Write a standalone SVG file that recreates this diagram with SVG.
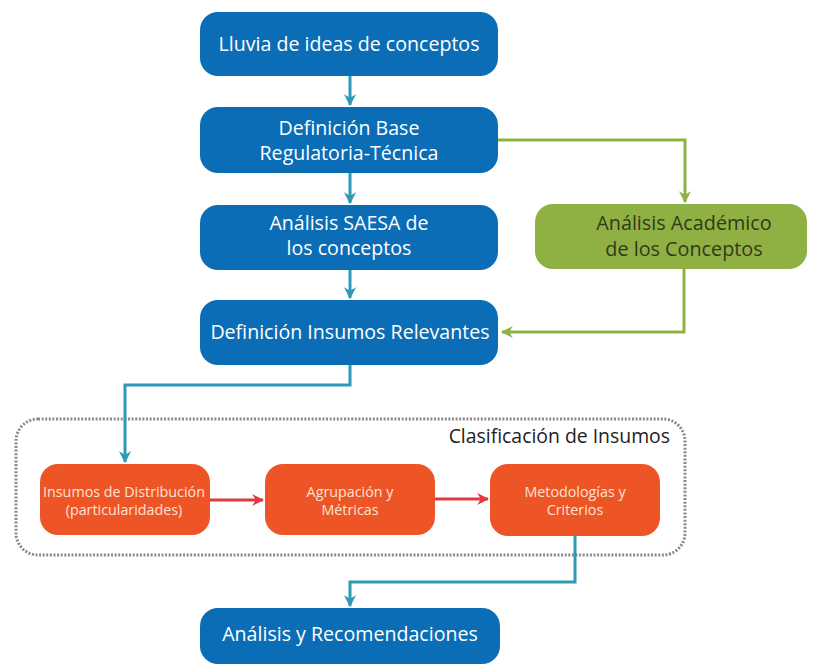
<svg xmlns="http://www.w3.org/2000/svg" width="826" height="667" viewBox="0 0 826 667">
<defs>
<style>
.blue{fill:#0b6db5}
.green{fill:#8fb043}
.orange{fill:#ee5526}
.tw{font-family:"Open Sans","Noto Sans",sans-serif;fill:#ffffff;text-anchor:middle;font-size:19.6px}
.tg{font-family:"Open Sans","Noto Sans",sans-serif;fill:#2f3a1c;text-anchor:middle;font-size:19.8px}
.to{font-family:"Open Sans","Noto Sans",sans-serif;fill:#fde3d3;text-anchor:middle;font-size:14.3px}
.cb{fill:none;stroke:#2f9ab6;stroke-width:3}
.cg{fill:none;stroke:#8fb043;stroke-width:3}
.cr{fill:none;stroke:#e2383f;stroke-width:3}
</style>
<marker id="ab" viewBox="0 0 10 10" refX="9" refY="5" markerWidth="4" markerHeight="4" orient="auto" markerUnits="strokeWidth"><path d="M0,0 L10,5 L0,10 L3,5 Z" fill="#2f9ab6"/></marker>
<marker id="ag" viewBox="0 0 10 10" refX="9" refY="5" markerWidth="4" markerHeight="4" orient="auto" markerUnits="strokeWidth"><path d="M0,0 L10,5 L0,10 L3,5 Z" fill="#8fb043"/></marker>
<marker id="ar" viewBox="0 0 10 10" refX="9" refY="5" markerWidth="4" markerHeight="4" orient="auto" markerUnits="strokeWidth"><path d="M0,0 L10,5 L0,10 L3,5 Z" fill="#e2383f"/></marker>
</defs>
<rect width="826" height="667" fill="#ffffff"/>

<g id="container">
<rect x="16" y="419" width="669" height="136" rx="22" fill="none" stroke="#8a8a8a" stroke-width="3" stroke-dasharray="2 1.6"/>
<text x="670" y="443" style="font-family:'Open Sans','Noto Sans',sans-serif;font-size:19.4px;fill:#222;text-anchor:end">Clasificación de Insumos</text>
</g>

<g id="connectors">
<path class="cb" d="M350,76 V105" marker-end="url(#ab)"/>
<path class="cb" d="M350,173 V203" marker-end="url(#ab)"/>
<path class="cb" d="M350,270 V298" marker-end="url(#ab)"/>
<path class="cg" d="M498,140 H685 V202" marker-end="url(#ag)"/>
<path class="cg" d="M684,269 V332 H502" marker-end="url(#ag)"/>
<path class="cb" d="M350,365 V385 H125 V462" marker-end="url(#ab)"/>
<path class="cr" d="M210,500 H263" marker-end="url(#ar)"/>
<path class="cr" d="M435,499 H488" marker-end="url(#ar)"/>
<path class="cb" d="M575,536 V582 H350 V606" marker-end="url(#ab)"/>
</g>

<g id="n1"><rect class="blue" x="200" y="12" width="298" height="64" rx="18"/><text class="tw" x="349" y="51">Lluvia de ideas de conceptos</text></g>
<g id="n2"><rect class="blue" x="200" y="107" width="298" height="66" rx="18"/><text class="tw" x="349" y="135">Definición Base</text><text class="tw" x="349" y="160">Regulatoria-Técnica</text></g>
<g id="n3"><rect class="blue" x="200" y="205" width="298" height="65" rx="18"/><text class="tw" x="349" y="230">Análisis SAESA de</text><text class="tw" x="349" y="255">los conceptos</text></g>
<g id="n4"><rect class="blue" x="200" y="300" width="298" height="65" rx="18"/><text class="tw" x="350" y="339">Definición Insumos Relevantes</text></g>
<g id="n5"><rect class="green" x="535" y="204" width="272" height="65" rx="18"/><text class="tg" x="684" y="230">Análisis Académico</text><text class="tg" x="684" y="256">de los Conceptos</text></g>
<g id="n6"><rect class="orange" x="40" y="464" width="170" height="71" rx="18"/><text class="to" x="124" y="497">Insumos de Distribución</text><text class="to" x="124" y="515">(particularidades)</text></g>
<g id="n7"><rect class="orange" x="265" y="464" width="170" height="71" rx="18"/><text class="to" x="350" y="497">Agrupación y</text><text class="to" x="350" y="515">Métricas</text></g>
<g id="n8"><rect class="orange" x="490" y="464" width="170" height="72" rx="18"/><text class="to" x="575" y="497">Metodologías y</text><text class="to" x="575" y="515">Criterios</text></g>
<g id="n9"><rect class="blue" x="200" y="608" width="300" height="56" rx="18"/><text class="tw" x="350" y="641">Análisis y Recomendaciones</text></g>
</svg>
